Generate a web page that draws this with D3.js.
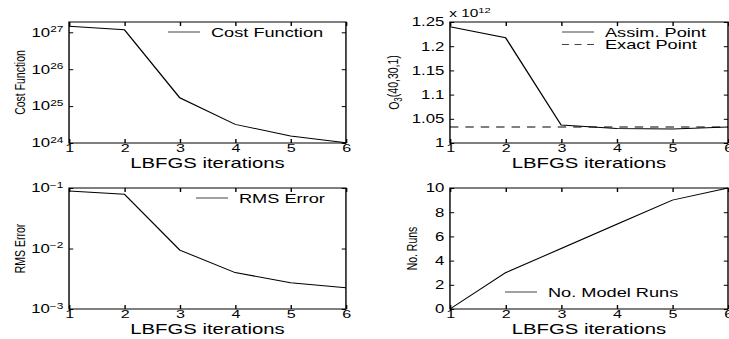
<!DOCTYPE html>
<html>
<head>
<meta charset="utf-8">
<script src="https://cdn.jsdelivr.net/npm/d3@7"></script>
<style>
  body { margin: 0; background: #fff; }
  svg { display: block; }
  text { font-family: "Liberation Sans", Arial, sans-serif; fill: #000; }
</style>
</head>
<body>
<script>
// values
const iterations = [1, 2, 3, 4, 5, 6];
const costFunction = [1.45e27, 1.18e27, 1.68e25, 3.2e24, 1.55e24, 1.02e24];
const assimPoint = [1.240e12, 1.2176e12, 1.037e12, 1.030e12, 1.029e12, 1.033e12];
const exactPoint = [1.033e12, 1.033e12, 1.033e12, 1.033e12, 1.033e12, 1.033e12];
const rmsError = [0.089, 0.0787, 0.0094, 0.0040, 0.00272, 0.00225];
const modelRuns = [0, 3, 5, 7, 9, 10];

const xTicks = [1, 2, 3, 4, 5, 6];
const costTicks = [1e24, 1e25, 1e26, 1e27];
const o3Ticks = [1, 1.05, 1.1, 1.15, 1.2, 1.25];
const rmsTicks = [1e-3, 1e-2, 1e-1];
const runsTicks = [0, 2, 4, 6, 8, 10];

let svg = null;
const stretch = 1.4; // the original figure is stretched sideways

appendSvg("body");

drawPanel({
  x0: 49.3, x1: 247.1, y0: 22, y1: 143,
  log: true, domain: [1e24, 1.9e27], ticks: costTicks,
  ylabel: "Cost Function", ylabelX: 14.3,
  series: [{values: costFunction, dash: null, name: "Cost Function"}],
  legend: {x: 70.7, y: 10}
});

drawPanel({
  x0: 321.4, x1: 520, y0: 22, y1: 143,
  log: false, domain: [1, 1.25], ticks: o3Ticks, scaleBy: 1e12,
  ylabel: "o3", ylabelX: 281.4,
  series: [
    {values: assimPoint, dash: null, name: "Assim. Point"},
    {values: exactPoint, dash: "6,5", name: "Exact Point"}
  ],
  legend: {x: 80, y: 10}
});

drawPanel({
  x0: 49.3, x1: 247.1, y0: 188, y1: 309,
  log: true, domain: [1e-3, 1e-1], ticks: rmsTicks,
  ylabel: "RMS Error", ylabelX: 14.3,
  series: [{values: rmsError, dash: null, name: "RMS Error"}],
  legend: {x: 90.7, y: 10}
});

drawPanel({
  x0: 321.4, x1: 520, y0: 188, y1: 309,
  log: false, domain: [0, 10], ticks: runsTicks,
  ylabel: "No. Runs", ylabelX: 294.3,
  series: [{values: modelRuns, dash: null, name: "No. Model Runs"}],
  legend: {x: 39.3, y: 104}
});


function appendSvg(domElement) {
  svg = d3.select(domElement).append("svg")
    .attr("width", 729)
    .attr("height", 339)
    .append("g")
    .attr("transform", `scale(${stretch}, 1)`);
}

function drawPanel(p) {
  const w = p.x1 - p.x0, h = p.y1 - p.y0;
  const k = p.scaleBy || 1;
  const g = svg.append("g").attr("transform", `translate(${p.x0}, ${p.y0})`);

  const x = d3.scaleLinear().domain([1, 6]).range([0, w]);
  const y = (p.log ? d3.scaleLog() : d3.scaleLinear()).domain(p.domain).range([h, 0]);

  // bottom axis with labels, ticks pointing inward
  const xb = g.append("g")
    .attr("transform", `translate(0, ${h})`)
    .call(d3.axisBottom(x).tickValues(xTicks).tickFormat(d3.format("d"))
      .tickSizeInner(-4).tickSizeOuter(0).tickPadding(1));
  xb.selectAll("text").attr("font-size", 11.5);
  g.append("g").call(d3.axisTop(x).tickValues(xTicks).tickFormat("")
    .tickSizeInner(-4).tickSizeOuter(0));

  // left axis
  const yl = g.append("g")
    .call(d3.axisLeft(y).tickValues(p.ticks).tickSizeInner(-3).tickSizeOuter(0).tickPadding(4)
      .tickFormat(d => p.log ? "" : d3.format("~g")(d)));
  yl.selectAll("text").attr("font-size", 12);
  if (p.log) {
    yl.selectAll(".tick text").each(function(d) {
      const t = d3.select(this);
      t.append("tspan").text("10");
      t.append("tspan").attr("dy", "-0.55em").attr("font-size", 8.5)
        .text(Math.round(Math.log10(d)).toString().replace("-", "\u2212"));
    });
  }
  g.append("g").attr("transform", `translate(${w}, 0)`)
    .call(d3.axisRight(y).tickValues(p.ticks).tickFormat("").tickSizeInner(-3).tickSizeOuter(0));

  g.selectAll(".domain").remove();
  g.selectAll(".tick line").attr("stroke", "#000");

  g.append("rect")
    .attr("width", w).attr("height", h)
    .attr("fill", "none").attr("stroke", "#000").attr("stroke-width", 1);

  // lines
  const line = d3.line().x((d, i) => x(iterations[i])).y(d => y(d / k));
  p.series.forEach(s => {
    g.append("path")
      .datum(s.values)
      .attr("fill", "none")
      .attr("stroke", "#000")
      .attr("stroke-width", 1)
      .attr("stroke-dasharray", s.dash)
      .attr("d", line);
  });

  // legend
  p.series.forEach((s, i) => {
    const ly = p.legend.y + i * 12.5;
    g.append("line")
      .attr("x1", p.legend.x).attr("x2", p.legend.x + 22.9)
      .attr("y1", ly).attr("y2", ly)
      .attr("stroke", "#444").attr("stroke-width", 1)
      .attr("stroke-dasharray", s.dash ? "5,4" : null);
    g.append("text")
      .attr("x", p.legend.x + 30.7).attr("y", ly)
      .attr("dy", "0.35em")
      .attr("font-size", 13)
      .text(s.name);
  });

  // x label
  g.append("text")
    .attr("x", w / 2).attr("y", h + 25)
    .attr("text-anchor", "middle")
    .attr("font-size", 14.5)
    .text("LBFGS iterations");

  // y label
  const yt = svg.append("text")
    .attr("transform", `translate(${p.ylabelX}, ${p.y0 + h / 2}) rotate(-90)`)
    .attr("text-anchor", "middle")
    .attr("dy", "0.35em")
    .attr("font-size", 10.5);
  if (p.ylabel === "o3") {
    yt.append("tspan").text("O");
    yt.append("tspan").attr("dy", "0.3em").attr("font-size", 8).text("3");
    yt.append("tspan").attr("dy", "-0.3em").text("(40,30,1)");
  } else {
    yt.text(p.ylabel);
  }

  if (k !== 1) {
    const e = svg.append("text")
      .attr("x", p.x0 - 0.5).attr("y", p.y0 - 5)
      .attr("font-size", 11)
      .text("x 10");
    e.append("tspan").attr("dy", "-0.5em").attr("font-size", 8).text("12");
  }
}
</script>
</body>
</html>
